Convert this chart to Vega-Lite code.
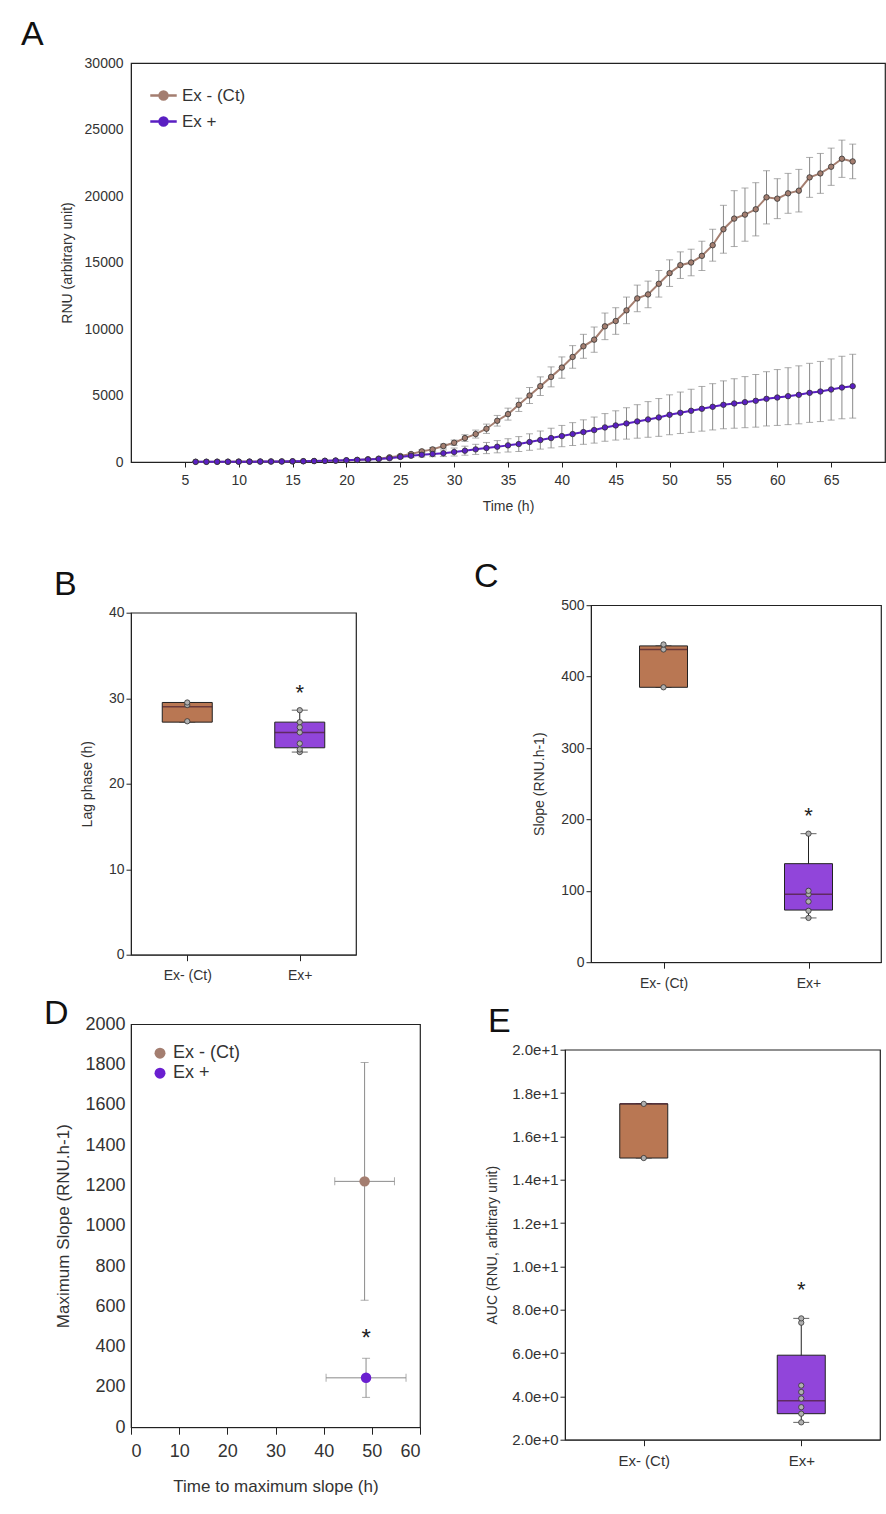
{
  "$schema": "https://vega.github.io/schema/vega-lite/v6.json",
  "padding": {"left": 20, "top": 17, "right": 0, "bottom": 5},
  "config": {
    "font": "Liberation Sans",
    "view": {"stroke": "#222", "strokeWidth": 1.2},
    "axis": {"labelFontSize": 14, "titleFontSize": 14, "labelColor": "#333", "titleColor": "#333", "domainColor": "#222", "tickColor": "#222", "grid": false, "titleFontWeight": "normal"},
    "title": {"fontSize": 34, "fontWeight": "normal", "anchor": "start", "color": "#111", "offset": 4, "frame": "group"},
    "legend": {"labelFontSize": 16, "labelColor": "#333"}
  },
  "resolve": {"scale": {"color": "independent"}, "legend": {"color": "independent"}},
  "datasets": {
    "curve": [
      {"t":6,"g":"Ex - (Ct)","v":20,"e":10},{"t":7,"g":"Ex - (Ct)","v":20,"e":10},{"t":8,"g":"Ex - (Ct)","v":25,"e":10},{"t":9,"g":"Ex - (Ct)","v":25,"e":10},{"t":10,"g":"Ex - (Ct)","v":30,"e":10},{"t":11,"g":"Ex - (Ct)","v":30,"e":10},{"t":12,"g":"Ex - (Ct)","v":35,"e":10},{"t":13,"g":"Ex - (Ct)","v":40,"e":10},{"t":14,"g":"Ex - (Ct)","v":45,"e":15},{"t":15,"g":"Ex - (Ct)","v":50,"e":15},{"t":16,"g":"Ex - (Ct)","v":60,"e":20},{"t":17,"g":"Ex - (Ct)","v":70,"e":20},{"t":18,"g":"Ex - (Ct)","v":85,"e":25},{"t":19,"g":"Ex - (Ct)","v":100,"e":30},{"t":20,"g":"Ex - (Ct)","v":120,"e":30},{"t":21,"g":"Ex - (Ct)","v":150,"e":40},{"t":22,"g":"Ex - (Ct)","v":200,"e":50},{"t":23,"g":"Ex - (Ct)","v":250,"e":60},{"t":24,"g":"Ex - (Ct)","v":350,"e":70},{"t":25,"g":"Ex - (Ct)","v":450,"e":80},{"t":26,"g":"Ex - (Ct)","v":600,"e":100},{"t":27,"g":"Ex - (Ct)","v":800,"e":110},{"t":28,"g":"Ex - (Ct)","v":950,"e":130},{"t":29,"g":"Ex - (Ct)","v":1200,"e":150},{"t":30,"g":"Ex - (Ct)","v":1450,"e":200},{"t":31,"g":"Ex - (Ct)","v":1800,"e":250},{"t":32,"g":"Ex - (Ct)","v":2100,"e":300},{"t":33,"g":"Ex - (Ct)","v":2500,"e":350},{"t":34,"g":"Ex - (Ct)","v":3100,"e":400},{"t":35,"g":"Ex - (Ct)","v":3600,"e":450},{"t":36,"g":"Ex - (Ct)","v":4300,"e":500},{"t":37,"g":"Ex - (Ct)","v":5000,"e":600},{"t":38,"g":"Ex - (Ct)","v":5700,"e":700},{"t":39,"g":"Ex - (Ct)","v":6400,"e":750},{"t":40,"g":"Ex - (Ct)","v":7100,"e":800},{"t":41,"g":"Ex - (Ct)","v":7900,"e":850},{"t":42,"g":"Ex - (Ct)","v":8700,"e":900},{"t":43,"g":"Ex - (Ct)","v":9200,"e":950},{"t":44,"g":"Ex - (Ct)","v":10200,"e":1000},{"t":45,"g":"Ex - (Ct)","v":10600,"e":1000},{"t":46,"g":"Ex - (Ct)","v":11400,"e":1000},{"t":47,"g":"Ex - (Ct)","v":12300,"e":1000},{"t":48,"g":"Ex - (Ct)","v":12600,"e":1000},{"t":49,"g":"Ex - (Ct)","v":13400,"e":1000},{"t":50,"g":"Ex - (Ct)","v":14200,"e":1000},{"t":51,"g":"Ex - (Ct)","v":14800,"e":1000},{"t":52,"g":"Ex - (Ct)","v":15000,"e":1000},{"t":53,"g":"Ex - (Ct)","v":15500,"e":1100},{"t":54,"g":"Ex - (Ct)","v":16300,"e":1200},{"t":55,"g":"Ex - (Ct)","v":17500,"e":1800},{"t":56,"g":"Ex - (Ct)","v":18300,"e":2100},{"t":57,"g":"Ex - (Ct)","v":18600,"e":2000},{"t":58,"g":"Ex - (Ct)","v":19000,"e":2000},{"t":59,"g":"Ex - (Ct)","v":19900,"e":2000},{"t":60,"g":"Ex - (Ct)","v":19800,"e":1500},{"t":61,"g":"Ex - (Ct)","v":20200,"e":1500},{"t":62,"g":"Ex - (Ct)","v":20400,"e":1600},{"t":63,"g":"Ex - (Ct)","v":21400,"e":1500},{"t":64,"g":"Ex - (Ct)","v":21700,"e":1500},{"t":65,"g":"Ex - (Ct)","v":22200,"e":1400},{"t":66,"g":"Ex - (Ct)","v":22800,"e":1400},{"t":67,"g":"Ex - (Ct)","v":22600,"e":1300},
      {"t":6,"g":"Ex +","v":10,"e":5},{"t":7,"g":"Ex +","v":12,"e":5},{"t":8,"g":"Ex +","v":15,"e":5},{"t":9,"g":"Ex +","v":18,"e":5},{"t":10,"g":"Ex +","v":20,"e":5},{"t":11,"g":"Ex +","v":25,"e":5},{"t":12,"g":"Ex +","v":30,"e":10},{"t":13,"g":"Ex +","v":35,"e":10},{"t":14,"g":"Ex +","v":40,"e":10},{"t":15,"g":"Ex +","v":50,"e":15},{"t":16,"g":"Ex +","v":60,"e":15},{"t":17,"g":"Ex +","v":75,"e":20},{"t":18,"g":"Ex +","v":90,"e":20},{"t":19,"g":"Ex +","v":110,"e":25},{"t":20,"g":"Ex +","v":130,"e":30},{"t":21,"g":"Ex +","v":160,"e":40},{"t":22,"g":"Ex +","v":190,"e":50},{"t":23,"g":"Ex +","v":230,"e":60},{"t":24,"g":"Ex +","v":280,"e":80},{"t":25,"g":"Ex +","v":380,"e":100},{"t":26,"g":"Ex +","v":470,"e":130},{"t":27,"g":"Ex +","v":540,"e":160},{"t":28,"g":"Ex +","v":600,"e":200},{"t":29,"g":"Ex +","v":660,"e":250},{"t":30,"g":"Ex +","v":750,"e":300},{"t":31,"g":"Ex +","v":850,"e":340},{"t":32,"g":"Ex +","v":950,"e":380},{"t":33,"g":"Ex +","v":1050,"e":420},{"t":34,"g":"Ex +","v":1150,"e":460},{"t":35,"g":"Ex +","v":1250,"e":500},{"t":36,"g":"Ex +","v":1350,"e":560},{"t":37,"g":"Ex +","v":1500,"e":620},{"t":38,"g":"Ex +","v":1650,"e":680},{"t":39,"g":"Ex +","v":1800,"e":740},{"t":40,"g":"Ex +","v":1950,"e":800},{"t":41,"g":"Ex +","v":2100,"e":860},{"t":42,"g":"Ex +","v":2250,"e":920},{"t":43,"g":"Ex +","v":2400,"e":980},{"t":44,"g":"Ex +","v":2600,"e":1040},{"t":45,"g":"Ex +","v":2750,"e":1100},{"t":46,"g":"Ex +","v":2900,"e":1180},{"t":47,"g":"Ex +","v":3050,"e":1260},{"t":48,"g":"Ex +","v":3200,"e":1340},{"t":49,"g":"Ex +","v":3350,"e":1420},{"t":50,"g":"Ex +","v":3550,"e":1500},{"t":51,"g":"Ex +","v":3700,"e":1560},{"t":52,"g":"Ex +","v":3850,"e":1620},{"t":53,"g":"Ex +","v":4000,"e":1680},{"t":54,"g":"Ex +","v":4150,"e":1740},{"t":55,"g":"Ex +","v":4300,"e":1800},{"t":56,"g":"Ex +","v":4400,"e":1860},{"t":57,"g":"Ex +","v":4500,"e":1920},{"t":58,"g":"Ex +","v":4600,"e":1980},{"t":59,"g":"Ex +","v":4750,"e":2040},{"t":60,"g":"Ex +","v":4850,"e":2100},{"t":61,"g":"Ex +","v":4950,"e":2140},{"t":62,"g":"Ex +","v":5050,"e":2180},{"t":63,"g":"Ex +","v":5200,"e":2220},{"t":64,"g":"Ex +","v":5300,"e":2260},{"t":65,"g":"Ex +","v":5450,"e":2300},{"t":66,"g":"Ex +","v":5600,"e":2350},{"t":67,"g":"Ex +","v":5700,"e":2400}
    ],
    "boxB": [{"g":"Ex- (Ct)","lo":27.2,"q1":27.2,"med":29.0,"q3":29.5,"hi":29.5},{"g":"Ex+","lo":23.7,"q1":24.2,"med":26.0,"q3":27.2,"hi":28.6}],
    "ptsB": [{"g":"Ex- (Ct)","v":27.3},{"g":"Ex- (Ct)","v":29.2},{"g":"Ex- (Ct)","v":29.5},{"g":"Ex+","v":23.7},{"g":"Ex+","v":24.0},{"g":"Ex+","v":24.7},{"g":"Ex+","v":26.0},{"g":"Ex+","v":26.6},{"g":"Ex+","v":27.2},{"g":"Ex+","v":28.6}],
    "starB": [{"g":"Ex+","v":30.6,"s":"*"}],
    "boxC": [{"g":"Ex- (Ct)","lo":385,"q1":385,"med":438,"q3":443,"hi":443},{"g":"Ex+","lo":62,"q1":73,"med":95,"q3":138,"hi":180}],
    "ptsC": [{"g":"Ex- (Ct)","v":385},{"g":"Ex- (Ct)","v":438},{"g":"Ex- (Ct)","v":445},{"g":"Ex+","v":62},{"g":"Ex+","v":72},{"g":"Ex+","v":85},{"g":"Ex+","v":95},{"g":"Ex+","v":100},{"g":"Ex+","v":180}],
    "starC": [{"g":"Ex+","v":205,"s":"*"}],
    "boxE": [{"g":"Ex- (Ct)","lo":15.0,"q1":15.0,"med":17.5,"q3":17.5,"hi":17.5},{"g":"Ex+","lo":2.8,"q1":3.2,"med":3.8,"q3":5.9,"hi":7.6}],
    "ptsE": [{"g":"Ex- (Ct)","v":15.0},{"g":"Ex- (Ct)","v":17.5},{"g":"Ex+","v":2.8},{"g":"Ex+","v":3.2},{"g":"Ex+","v":3.5},{"g":"Ex+","v":3.9},{"g":"Ex+","v":4.2},{"g":"Ex+","v":4.5},{"g":"Ex+","v":7.4},{"g":"Ex+","v":7.6}],
    "starE": [{"g":"Ex+","v":8.9,"s":"*"}],
    "maxD": [{"g":"Ex - (Ct)","t":48.5,"te":6.2,"m":1220,"me":590},{"g":"Ex +","t":48.8,"te":8.3,"m":245,"me":97}],
    "starD": [{"t":48.8,"m":440,"s":"*"}]
  },
  "spacing": 45,
  "vconcat": [
    {
      "title": {"text": "A", "dx": -110},
      "width": 754,
      "height": 399,
      "data": {"name": "curve"},
      "layer": [
        {
          "mark": {"type": "errorbar", "ticks": {"size": 7}, "color": "#8a8a8a", "thickness": 1},
          "encoding": {
            "x": {"field": "t", "type": "quantitative", "title": "Time (h)"},
            "y": {"field": "v", "type": "quantitative", "title": "RNU (arbitrary unit)"},
            "yError": {"field": "e"}
          }
        },
        {
          "mark": {"type": "line", "strokeWidth": 2},
          "encoding": {
            "x": {"field": "t", "type": "quantitative", "title": "Time (h)", "scale": {"domain": [3.5, 67]}, "axis": {"values": [5,10,15,20,25,30,35,40,45,50,55,60,65], "titlePadding": 12, "labelPadding": 6}},
            "y": {"field": "v", "type": "quantitative", "title": "RNU (arbitrary unit)", "scale": {"domain": [0, 30000]}, "axis": {"values": [0,5000,10000,15000,20000,25000,30000], "format": "d", "titlePadding": 10, "tickSize": 0, "labelPadding": 8}},
            "color": {"field": "g", "type": "nominal", "scale": {"domain": ["Ex - (Ct)", "Ex +"], "range": ["#a47e70", "#5a1fc2"]}, "legend": {"orient": "top-left", "title": null, "symbolType": "M-1,0L-0.3,0M0.3,0L1,0M0.3,0A0.3,0.3 0 1 1 -0.3,0A0.3,0.3 0 1 1 0.3,0", "symbolSize": 700, "symbolStrokeWidth": 2.5, "labelFontSize": 17}}
          }
        },
        {
          "mark": {"type": "point", "filled": true, "size": 30, "stroke": "#333", "strokeWidth": 0.8, "opacity": 1},
          "encoding": {
            "x": {"field": "t", "type": "quantitative"},
            "y": {"field": "v", "type": "quantitative"},
            "color": {"field": "g", "type": "nominal"}
          }
        }
      ]
    },
    {
      "spacing": 5,
      "resolve": {"scale": {"color": "independent"}, "legend": {"color": "independent"}},
      "vconcat": [
        {
          "spacing": 116,
          "center": true,
          "hconcat": [
            {
              "title": {"text": "B", "dx": -77},
              "width": 225,
              "height": 342,
              "encoding": {
                "x": {"field": "g", "type": "nominal", "scale": {"domain": ["Ex- (Ct)", "Ex+"], "type": "point", "padding": 0.5}, "axis": {"title": null, "labelAngle": 0, "labelPadding": 8, "tickSize": 6}}
              },
              "layer": [
                {"data": {"name": "boxB"}, "mark": {"type": "rule", "color": "#222"}, "encoding": {"y": {"field": "lo", "type": "quantitative", "title": "Lag phase (h)", "scale": {"domain": [0, 40]}, "axis": {"values": [0,10,20,30,40], "titlePadding": 14}}, "y2": {"field": "hi"}}},
                {"data": {"name": "boxB"}, "mark": {"type": "tick", "color": "#222", "size": 16}, "encoding": {"y": {"field": "lo", "type": "quantitative"}}},
                {"data": {"name": "boxB"}, "mark": {"type": "tick", "color": "#222", "size": 16}, "encoding": {"y": {"field": "hi", "type": "quantitative"}}},
                {"data": {"name": "boxB"}, "mark": {"type": "bar", "size": 50, "stroke": "#222", "strokeWidth": 1}, "encoding": {"y": {"field": "q1", "type": "quantitative"}, "y2": {"field": "q3"}, "fill": {"field": "g", "type": "nominal", "scale": {"domain": ["Ex- (Ct)", "Ex+"], "range": ["#b97753", "#9145da"]}, "legend": null}}},
                {"data": {"name": "boxB"}, "mark": {"type": "tick", "color": "#4a2030", "size": 50, "thickness": 1.5}, "encoding": {"y": {"field": "med", "type": "quantitative"}}},
                {"data": {"name": "ptsB"}, "mark": {"type": "point", "filled": true, "size": 28, "fill": "#b0b0b0", "stroke": "#333", "strokeWidth": 0.8, "opacity": 1}, "encoding": {"y": {"field": "v", "type": "quantitative"}}},
                {"data": {"name": "starB"}, "mark": {"type": "text", "fontSize": 22, "baseline": "middle", "color": "#222"}, "encoding": {"y": {"field": "v", "type": "quantitative"}, "text": {"field": "s"}}}
              ]
            },
            {
              "title": {"text": "C", "dx": -117},
              "width": 290,
              "height": 357,
              "encoding": {
                "x": {"field": "g", "type": "nominal", "scale": {"domain": ["Ex- (Ct)", "Ex+"], "type": "point", "padding": 0.5}, "axis": {"title": null, "labelAngle": 0, "labelPadding": 8, "tickSize": 6}}
              },
              "layer": [
                {"data": {"name": "boxC"}, "mark": {"type": "rule", "color": "#222"}, "encoding": {"y": {"field": "lo", "type": "quantitative", "title": "Slope (RNU.h-1)", "scale": {"domain": [0, 500]}, "axis": {"values": [0,100,200,300,400,500], "titlePadding": 14}}, "y2": {"field": "hi"}}},
                {"data": {"name": "boxC"}, "mark": {"type": "tick", "color": "#222", "size": 16}, "encoding": {"y": {"field": "lo", "type": "quantitative"}}},
                {"data": {"name": "boxC"}, "mark": {"type": "tick", "color": "#222", "size": 16}, "encoding": {"y": {"field": "hi", "type": "quantitative"}}},
                {"data": {"name": "boxC"}, "mark": {"type": "bar", "size": 48, "stroke": "#222", "strokeWidth": 1}, "encoding": {"y": {"field": "q1", "type": "quantitative"}, "y2": {"field": "q3"}, "fill": {"field": "g", "type": "nominal", "scale": {"domain": ["Ex- (Ct)", "Ex+"], "range": ["#b97753", "#9145da"]}, "legend": null}}},
                {"data": {"name": "boxC"}, "mark": {"type": "tick", "color": "#4a2030", "size": 48, "thickness": 1.5}, "encoding": {"y": {"field": "med", "type": "quantitative"}}},
                {"data": {"name": "ptsC"}, "mark": {"type": "point", "filled": true, "size": 28, "fill": "#b0b0b0", "stroke": "#333", "strokeWidth": 0.8, "opacity": 1}, "encoding": {"y": {"field": "v", "type": "quantitative"}}},
                {"data": {"name": "starC"}, "mark": {"type": "text", "fontSize": 22, "baseline": "middle", "color": "#222"}, "encoding": {"y": {"field": "v", "type": "quantitative"}, "text": {"field": "s"}}}
              ]
            }
          ]
        },
        {
          "spacing": 63,
          "center": true,
          "resolve": {"scale": {"color": "independent"}, "legend": {"color": "independent"}},
          "hconcat": [
            {
              "title": {"text": "D", "dx": -87, "dy": 20},
              "width": 289,
              "height": 403,
              "data": {"name": "maxD"},
              "layer": [
                {"mark": {"type": "errorbar", "ticks": {"size": 8}, "color": "#8a8a8a"}, "encoding": {"x": {"field": "t", "type": "quantitative", "title": "Time to maximum slope (h)"}, "y": {"field": "m", "type": "quantitative", "title": "Maximum Slope (RNU.h-1)"}, "yError": {"field": "me"}}},
                {"mark": {"type": "errorbar", "ticks": {"size": 8}, "color": "#8a8a8a"}, "encoding": {"y": {"field": "m", "type": "quantitative", "title": "Maximum Slope (RNU.h-1)"}, "x": {"field": "t", "type": "quantitative", "title": "Time to maximum slope (h)"}, "xError": {"field": "te"}}},
                {
                  "mark": {"type": "circle", "size": 110, "opacity": 1},
                  "encoding": {
                    "x": {"field": "t", "type": "quantitative", "title": "Time to maximum slope (h)", "scale": {"domain": [0, 60]}, "axis": {"values": [0,10,20,30,40,50,60], "titleFontSize": 17, "labelFontSize": 18, "labelPadding": 8, "titlePadding": 18, "tickSize": 7}},
                    "y": {"field": "m", "type": "quantitative", "title": "Maximum Slope (RNU.h-1)", "scale": {"domain": [0, 2000]}, "axis": {"values": [0,200,400,600,800,1000,1200,1400,1600,1800,2000], "format": "d", "titleFontSize": 17, "labelFontSize": 18, "titlePadding": 12, "tickSize": 0, "labelPadding": 6}},
                    "color": {"field": "g", "type": "nominal", "scale": {"domain": ["Ex - (Ct)", "Ex +"], "range": ["#a47e70", "#6a1fd0"]}, "legend": {"orient": "top-left", "title": null, "symbolType": "circle", "symbolSize": 120, "labelFontSize": 18, "offset": 20}}
                  }
                },
                {"data": {"name": "starD"}, "mark": {"type": "text", "fontSize": 24, "baseline": "middle", "color": "#222"}, "encoding": {"x": {"field": "t", "type": "quantitative"}, "y": {"field": "m", "type": "quantitative"}, "text": {"field": "s"}}}
              ]
            },
            {
              "title": {"text": "E", "dx": -77},
              "width": 315,
              "height": 390,
              "encoding": {
                "x": {"field": "g", "type": "nominal", "scale": {"domain": ["Ex- (Ct)", "Ex+"], "type": "point", "padding": 0.5}, "axis": {"title": null, "labelAngle": 0, "labelPadding": 8, "tickSize": 6, "labelFontSize": 15}}
              },
              "layer": [
                {"data": {"name": "boxE"}, "mark": {"type": "rule", "color": "#222"}, "encoding": {"y": {"field": "lo", "type": "quantitative", "title": "AUC (RNU, arbitrary unit)", "scale": {"domain": [2, 20]}, "axis": {"values": [2,4,6,8,10,12,14,16,18,20], "format": ".1e", "titlePadding": 12, "labelFontSize": 15}}, "y2": {"field": "hi"}}},
                {"data": {"name": "boxE"}, "mark": {"type": "tick", "color": "#222", "size": 16}, "encoding": {"y": {"field": "lo", "type": "quantitative"}}},
                {"data": {"name": "boxE"}, "mark": {"type": "tick", "color": "#222", "size": 16}, "encoding": {"y": {"field": "hi", "type": "quantitative"}}},
                {"data": {"name": "boxE"}, "mark": {"type": "bar", "size": 48, "stroke": "#222", "strokeWidth": 1}, "encoding": {"y": {"field": "q1", "type": "quantitative"}, "y2": {"field": "q3"}, "fill": {"field": "g", "type": "nominal", "scale": {"domain": ["Ex- (Ct)", "Ex+"], "range": ["#b97753", "#9145da"]}, "legend": null}}},
                {"data": {"name": "boxE"}, "mark": {"type": "tick", "color": "#4a2030", "size": 48, "thickness": 1.5}, "encoding": {"y": {"field": "med", "type": "quantitative"}}},
                {"data": {"name": "ptsE"}, "mark": {"type": "point", "filled": true, "size": 28, "fill": "#b0b0b0", "stroke": "#333", "strokeWidth": 0.8, "opacity": 1}, "encoding": {"y": {"field": "v", "type": "quantitative"}}},
                {"data": {"name": "starE"}, "mark": {"type": "text", "fontSize": 22, "baseline": "middle", "color": "#222"}, "encoding": {"y": {"field": "v", "type": "quantitative"}, "text": {"field": "s"}}}
              ]
            }
          ]
        }
      ]
    }
  ]
}
